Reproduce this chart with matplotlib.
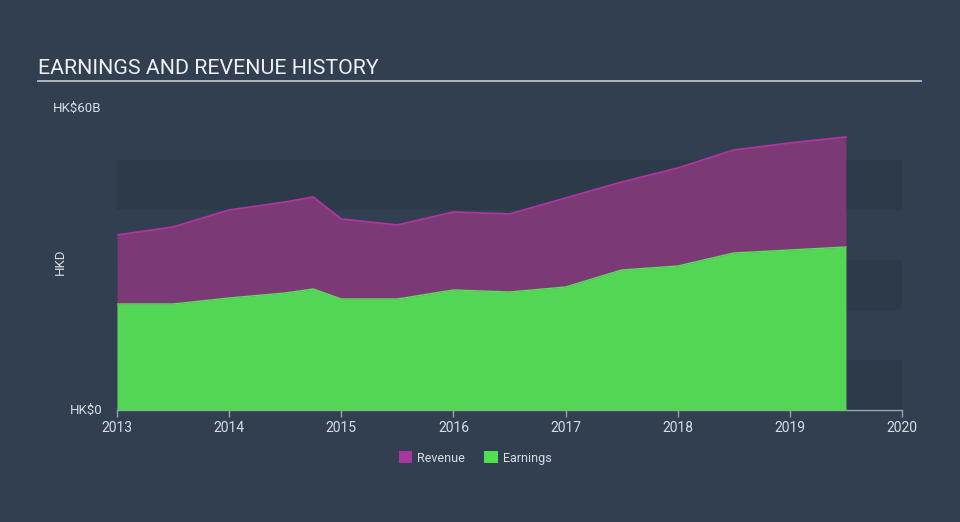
import matplotlib
matplotlib.use("Agg")
import matplotlib.pyplot as plt
from matplotlib.patches import Patch

# values (HK$ billions)
years = [2013.0, 2013.5, 2014.0, 2014.5, 2014.75, 2015.0, 2015.5, 2016.0,
         2016.5, 2017.0, 2017.5, 2018.0, 2018.5, 2019.0, 2019.5]
revenue = [35.0, 36.6, 40.0, 41.6, 42.6, 38.2, 37.0, 39.6,
           39.2, 42.4, 45.6, 48.4, 52.0, 53.4, 54.6]
earnings = [21.2, 21.2, 22.4, 23.4, 24.2, 22.2, 22.2, 24.0,
            23.6, 24.6, 28.0, 28.8, 31.4, 32.0, 32.6]
xticks = [2013, 2014, 2015, 2016, 2017, 2018, 2019, 2020]

bg = "#323f50"
band = "#2d3a4a"
text_col = "#d8dde3"

plt.rcParams['font.family'] = ['Roboto', 'DejaVu Sans']

fig = plt.figure(figsize=(9.6, 5.22), dpi=100, facecolor=bg)
ax = fig.add_axes([117/960, 1 - 410/522, 785/960, 300/522])
ax.set_facecolor(bg)

# alternating horizontal bands
for lo in (0, 20, 40):
    ax.axhspan(lo, lo + 10, color=band, zorder=0, lw=0)

ax.fill_between(years, revenue, 0, color="#7b3a75", lw=0, zorder=2)
ax.plot(years, revenue, color="#b0359f", lw=1.3, zorder=3)
ax.fill_between(years, earnings, 0, color="#53d655", lw=0, zorder=4)
ax.plot(years, earnings, color="#5ae05a", lw=1.0, zorder=5)

ax.set_xlim(2013, 2020)
ax.set_ylim(0, 60)
ax.set_xticks(xticks)
ax.set_xticklabels([str(t) for t in xticks], color=text_col, fontsize=10)
ax.set_yticks([])
ax.tick_params(axis='x', colors="#9aa4ae", length=5, width=1, pad=3,
               labelcolor=text_col)
for s in ('top', 'right', 'left'):
    ax.spines[s].set_visible(False)
ax.spines['bottom'].set_color("#9aa4ae")
ax.spines['bottom'].set_linewidth(1)

# y labels
fig.text(53/960, 1 - 108/522, "HK\\$60B", color=text_col, fontsize=9.5,
         va='center', ha='left')
fig.text(103/960, 1 - 410/522, "HK\\$0", color=text_col, fontsize=9.5,
         va='center', ha='right')
fig.text(60/960, 1 - 262/522, "HKD", color=text_col, fontsize=9.5,
         va='center', ha='center', rotation=90)

# title and underline
fig.text(38/960, 1 - 68/522, "EARNINGS AND REVENUE HISTORY", color="#eef0f2",
         fontsize=15.4, va='center', ha='left')
fig.add_artist(plt.Line2D([38/960, 921/960], [1 - 81/522, 1 - 81/522],
                          transform=fig.transFigure, color="#b8bec5", lw=1.3))

handles = [Patch(facecolor="#a8369c", edgecolor='none', label="Revenue"),
           Patch(facecolor="#4fe04f", edgecolor='none', label="Earnings")]
leg = fig.legend(handles=handles, loc='center', bbox_to_anchor=(475/960, 1 - 458/522),
                 ncol=2, frameon=False, fontsize=9, handlelength=1.1,
                 handleheight=1.1, columnspacing=1.5, handletextpad=0.4)
for t in leg.get_texts():
    t.set_color(text_col)

fig.savefig("out.png", dpi=100, facecolor=bg)
